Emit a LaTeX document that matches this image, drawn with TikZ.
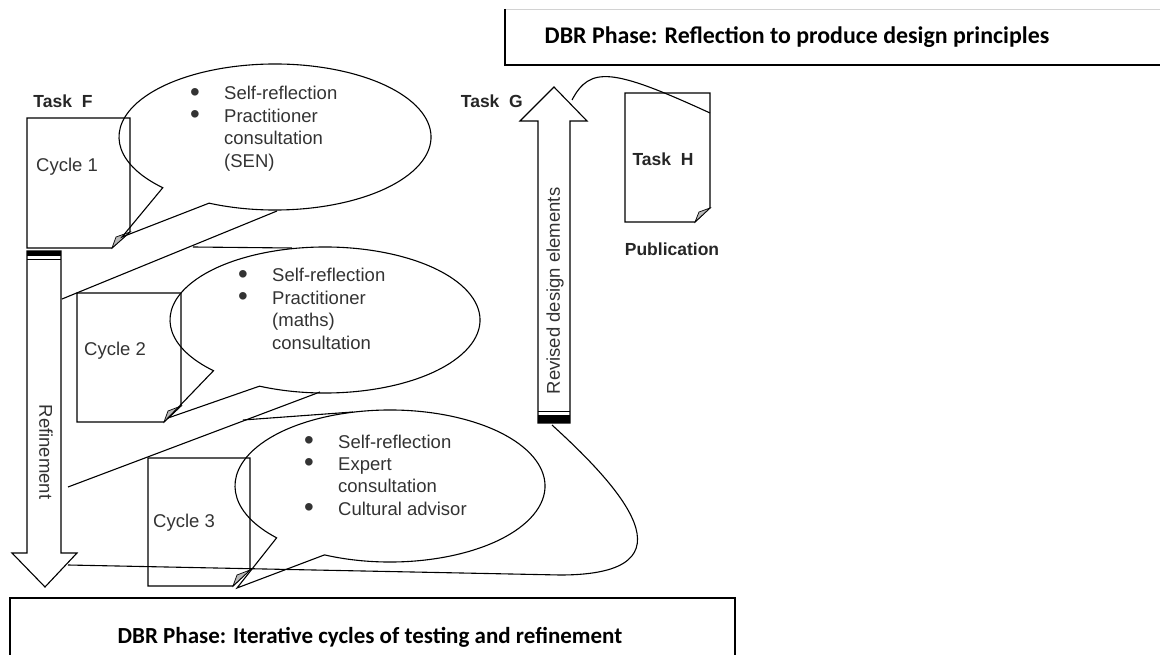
\documentclass[tikz,border=0pt]{standalone}
\usepackage{fontspec}
\setmainfont{Liberation Sans}
\newfontfamily\calibri{Carlito}
\usepackage{graphicx}
\usepackage{tikz}
\usetikzlibrary{calc}
\newcommand{\tbul}{\makebox[34pt][l]{\raisebox{-1.5pt}{\scalebox{1.5}{\textbullet}}}}

\begin{document}
\begin{tikzpicture}[x=1pt, y=1pt,
  line/.style={line width=1.1pt},
  doc/.style={draw, line width=1.1pt},
  flap/.style={draw, fill=gray!55, line width=0.7pt},
  blockarrow/.style={draw, line width=1.1pt},
  phasebox/.style={line width=1.8pt},
  lbl/.style={font=\fontsize{18.5}{22.4}\selectfont, text=black!80, inner sep=0pt},
  task/.style={font=\bfseries\fontsize{17.5}{21}\selectfont, text=black!85, inner sep=0pt},
  phase/.style={font=\calibri\bfseries\fontsize{23.9}{28}\selectfont, inner sep=0pt}
]
  \useasboundingbox (0,0) rectangle (1160,-655);

  % phase boxes
  \draw[gray!35, line width=0.8pt] (505,-9) -- (1160,-9);
  \draw[phasebox] (505,-9) -- (505,-65) -- (1160,-65);
  \node[phase] (phaseTop) at (797,-37) {DBR Phase: Reflection to produce design principles};
  \draw[phasebox] (10,-660) -- (10,-598) -- (735,-598) -- (735,-660);
  \node[phase, font=\calibri\bfseries\fontsize{23}{27}\selectfont] (phaseBottom) at (370,-637)
    {DBR Phase: Iterative cycles of testing and refinement};

  % task F documents
  \node[task] (taskF) at (63,-101) {Task\ \ F};
  \draw[doc] (27,-118) -- (130,-118) -- (130,-232) -- (112,-248) -- (27,-248) -- cycle;
  \draw[flap] (112,-248) -- (116,-237) -- (130,-232) -- cycle;
  \node[lbl] (cyc1) at (67,-167) {Cycle 1};

  \draw[doc] (77,-293) -- (181,-293) -- (181,-406) -- (164,-422) -- (77,-422) -- cycle;
  \draw[flap] (164,-422) -- (168,-411) -- (181,-406) -- cycle;
  \node[lbl] (cyc2) at (115,-351) {Cycle 2};

  \draw[doc] (148,-458) -- (250,-458) -- (250,-570) -- (233,-586) -- (148,-586) -- cycle;
  \draw[flap] (233,-586) -- (237,-575) -- (250,-570) -- cycle;
  \node[lbl] (cyc3) at (184,-523) {Cycle 3};

  % callouts
  \draw[line] (275,-137) ++(245:156pt and 73pt)
    arc[start angle=245, end angle=584, x radius=156pt, y radius=73pt] -- (122,-237) -- cycle;
  \node[lbl, anchor=base west] (talk1) at (190,-100) {\begin{tabular}[t]{@{}l@{}l@{}}
    \tbul & Self-reflection\\
    \tbul & Practitioner\\
    & consultation\\
    & (SEN)
  \end{tabular}};

  \draw[line] (325,-320) ++(245:155pt and 73pt)
    arc[start angle=245, end angle=584, x radius=155pt, y radius=73pt] -- (168,-418) -- cycle;
  \node[lbl, anchor=base west] (talk2) at (238,-282) {\begin{tabular}[t]{@{}l@{}l@{}}
    \tbul & Self-reflection\\
    \tbul & Practitioner\\
    & (maths)\\
    & consultation
  \end{tabular}};

  \draw[line] (390,-486) ++(245:155pt and 76pt)
    arc[start angle=245, end angle=583, x radius=155pt, y radius=76pt] -- (237,-588) -- cycle;
  \node[lbl, anchor=base west] (talk3) at (304,-448) {\begin{tabular}[t]{@{}l@{}l@{}}
    \tbul & Self-reflection\\
    \tbul & Expert\\
    & consultation\\
    \tbul & Cultural advisor
  \end{tabular}};

  % refinement arrow
  \draw[blockarrow] (27,-251) -- (61,-251) -- (61,-553) -- (77,-553) -- (45,-587)
    -- (12,-553) -- (27,-553) -- cycle;
  \fill (27,-251) rectangle (61,-256);
  \draw (27,-259.5) -- (61,-259.5);
  \node[lbl, rotate=-90] (refine) at (46,-452) {Refinement};

  % revised design elements arrow
  \draw[blockarrow] (538,-423) -- (538,-121) -- (520,-121) -- (554,-87) -- (587,-121)
    -- (570,-121) -- (570,-423) -- cycle;
  \fill (538,-415) rectangle (570,-423);
  \draw (538,-411) -- (570,-411);
  \node[lbl, rotate=90] (revised) at (555,-291) {Revised design elements};
  \node[task, anchor=east] (taskG) at (523,-101) {Task\ \ G};

  % task H
  \draw[doc] (625,-93) -- (710,-93) -- (710,-208) -- (695,-222) -- (625,-222) -- cycle;
  \draw[flap] (695,-222) -- (699,-212) -- (710,-208) -- cycle;
  \node[task] (taskH) at (663,-159) {Task\ \ H};
  \node[task] (pub) at (672,-249) {Publication};

  % flow lines
  \draw[line] (62,-299) -- (277,-211);
  \draw[line] (193,-247) -- (292,-248);
  \draw[line] (68,-487) -- (320,-392);
  \draw[line] (243,-420) -- (353,-412);
  \draw[line] (572,-100) .. controls (590,-66) and (612,-68) .. (710,-113);
  \draw[line] (552,-425) .. controls (618,-485) and (702,-575) .. (560,-575) -- (68,-565);
\end{tikzpicture}
\end{document}
